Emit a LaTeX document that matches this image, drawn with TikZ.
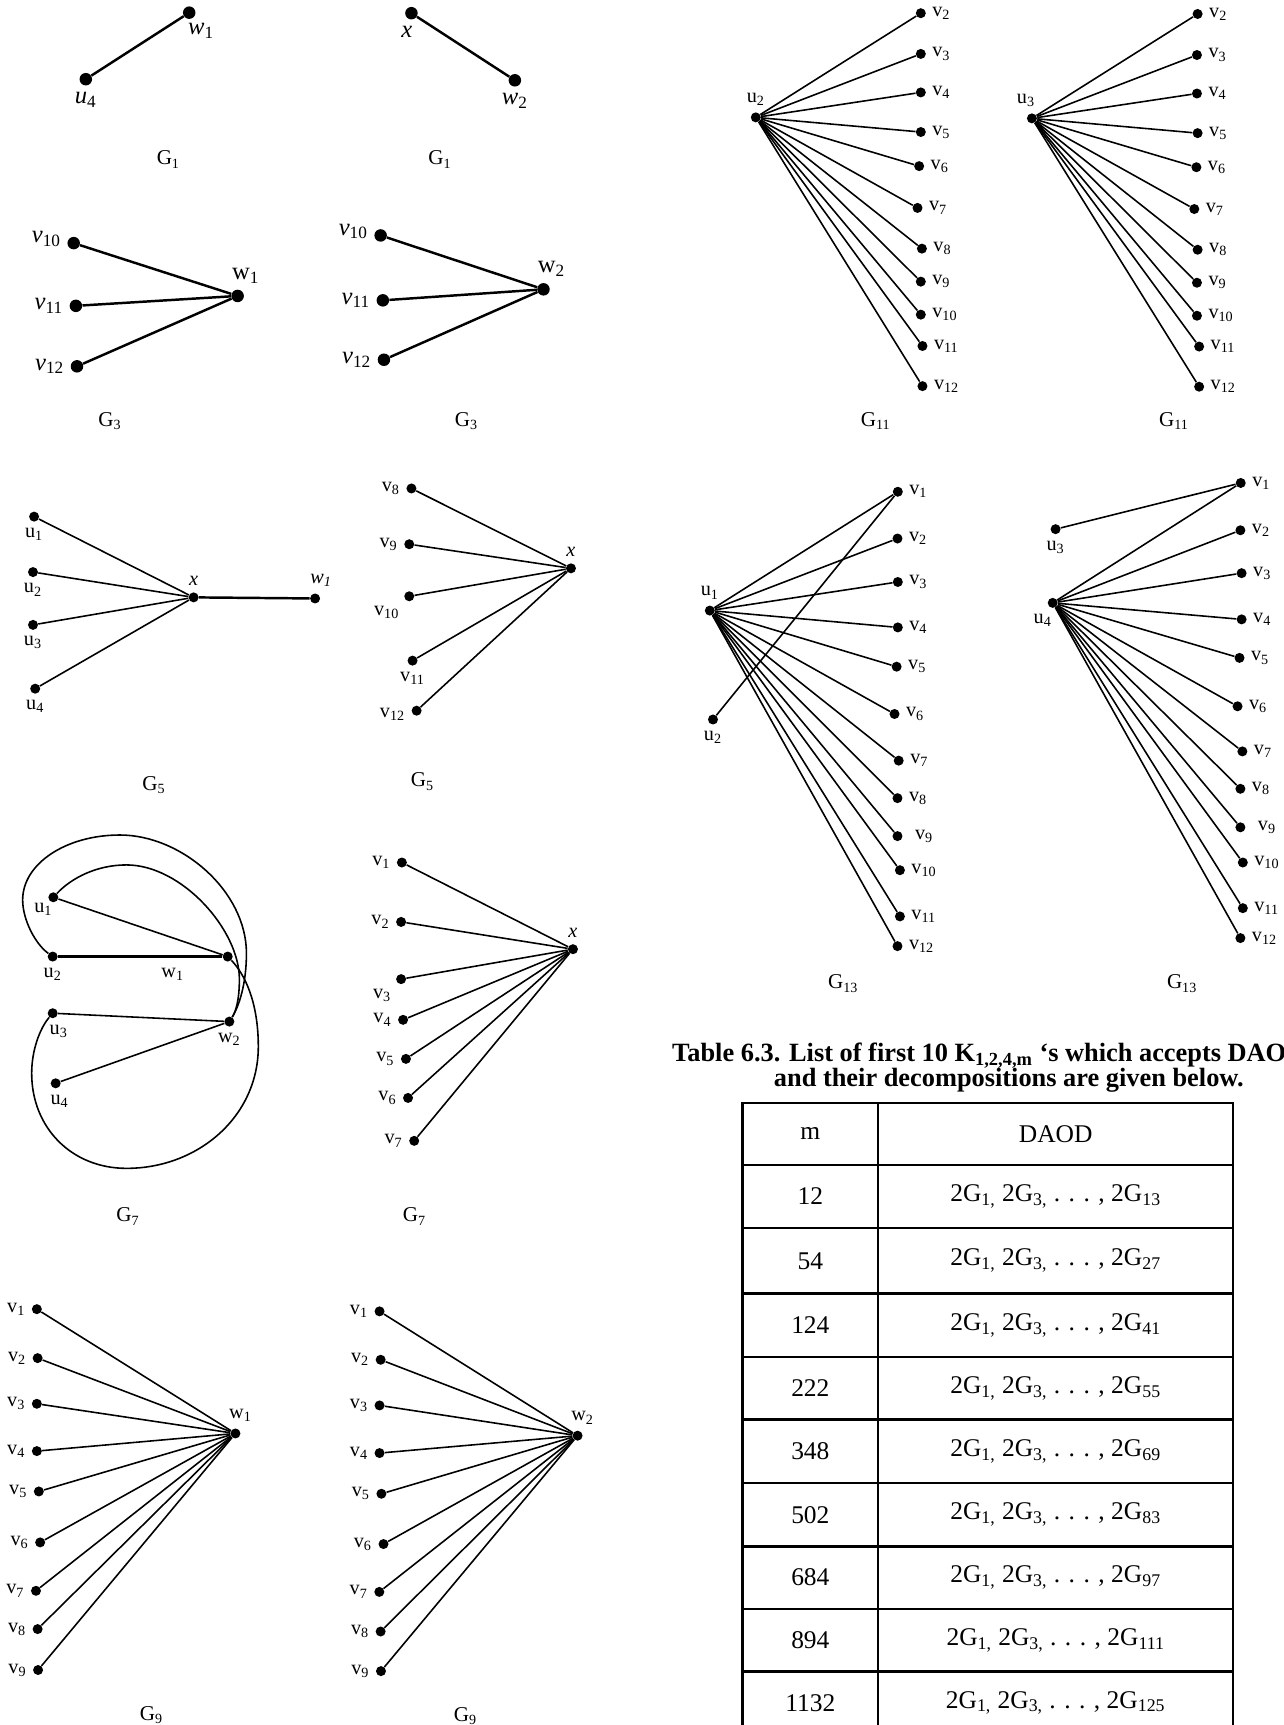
\documentclass[tikz,border=0pt]{standalone}
\usepackage{fontspec}
\setmainfont{Liberation Serif}
\newcommand\lblfont{\fontsize{11.5}{13}\selectfont}
\newcommand\bigfont{\fontsize{14}{16}\selectfont}
\newcommand\capfont{\fontsize{12}{14}\selectfont}
\newcommand\tabfont{\fontsize{14.5}{17}\selectfont}
\newcommand\ttlfont{\fontsize{15}{14.2}\selectfont\bfseries\lineskiplimit=-\maxdimen}
\tikzset{
	v/.style={circle,fill=black,inner sep=0pt,minimum size=2mm},
	bigv/.style={v,minimum size=2.5mm},
	edge/.style={draw=black,line width=0.9pt},
	boldedge/.style={draw=black,line width=1.4pt},
	gname/.style={font=\capfont,inner sep=1pt},
	cell/.style={font=\tabfont,inner sep=1pt},
	tabline/.style={draw=black,line width=1.3pt},
	every label/.style={font=\lblfont},
}
\begin{document}
\begin{tikzpicture}[x=0.22mm,y=-0.22mm]
\useasboundingbox (0,0) rectangle (1167,1568);
% G1, left
\begin{scope}
	\node[bigv,label={[font=\bigfont,xshift=-2.4mm]below right:\textit{w}\textsubscript{1}}] (w1) at (172,11.5) {};
	\node[bigv,label={[font=\bigfont]below:\textit{u}\textsubscript{4}}] (u4) at (78,72) {};
	\draw[boldedge] (u4)--(w1);
	\node[gname] (g1a) at (153,145) {G\textsubscript{1}};
\end{scope}
% G1, right
\begin{scope}
	\node[bigv,label={[font=\bigfont,xshift=-0.9mm]below:\textit{x}}] (x) at (374,12) {};
	\node[bigv,label={[font=\bigfont]below:\textit{w}\textsubscript{2}}] (w2) at (468,73) {};
	\draw[boldedge] (x)--(w2);
	\node[gname] (g1b) at (400,145) {G\textsubscript{1}};
\end{scope}
% G3, left
\begin{scope}
	\node[bigv,label={[font=\bigfont,yshift=0.8mm]left:\textit{v}\textsubscript{10}}] (v10) at (67,221) {};
	\node[bigv,label={[font=\bigfont]left:\textit{v}\textsubscript{11}}] (v11) at (69,278) {};
	\node[bigv,label={[font=\bigfont]left:\textit{v}\textsubscript{12}}] (v12) at (70,333) {};
	\node[bigv,label={[font=\bigfont,xshift=1.6mm]above:w\textsubscript{1}}] (w1) at (216,269) {};
	\draw[boldedge] (v10)--(w1);
	\draw[boldedge] (v11)--(w1);
	\draw[boldedge] (v12)--(w1);
	\node[gname] (g3a) at (100,383) {G\textsubscript{3}};
\end{scope}
% G3, right
\begin{scope}
	\node[bigv,label={[font=\bigfont,yshift=0.8mm]left:\textit{v}\textsubscript{10}}] (v10) at (346,214) {};
	\node[bigv,label={[font=\bigfont]left:\textit{v}\textsubscript{11}}] (v11) at (348,273) {};
	\node[bigv,label={[font=\bigfont]left:\textit{v}\textsubscript{12}}] (v12) at (349,327) {};
	\node[bigv,label={[font=\bigfont,xshift=1.6mm]above:w\textsubscript{2}}] (w2) at (494,263) {};
	\draw[boldedge] (v10)--(w2);
	\draw[boldedge] (v11)--(w2);
	\draw[boldedge] (v12)--(w2);
	\node[gname] (g3b) at (424,383) {G\textsubscript{3}};
\end{scope}
% G11, left
\begin{scope}
	\node[v,label=above:u\textsubscript{2}] (u2) at (687,106.7) {};
	\node[v,label=right:v\textsubscript{2}] (v2) at (837,12) {};
	\node[v,label=right:v\textsubscript{3}] (v3) at (837,49) {};
	\node[v,label=right:v\textsubscript{4}] (v4) at (837,84) {};
	\node[v,label=right:v\textsubscript{5}] (v5) at (837,120) {};
	\node[v,label=right:v\textsubscript{6}] (v6) at (835.5,151) {};
	\node[v,label=right:v\textsubscript{7}] (v7) at (834,189) {};
	\node[v,label=right:v\textsubscript{8}] (v8) at (838,226) {};
	\node[v,label=right:v\textsubscript{9}] (v9) at (837,256) {};
	\node[v,label=right:v\textsubscript{10}] (v10) at (837,286) {};
	\node[v,label=right:v\textsubscript{11}] (v11) at (838.5,314.5) {};
	\node[v,label=right:v\textsubscript{12}] (v12) at (838.5,351) {};
	\draw[edge] (u2)--(v2);
	\draw[edge] (u2)--(v3);
	\draw[edge] (u2)--(v4);
	\draw[edge] (u2)--(v5);
	\draw[edge] (u2)--(v6);
	\draw[edge] (u2)--(v7);
	\draw[edge] (u2)--(v8);
	\draw[edge] (u2)--(v9);
	\draw[edge] (u2)--(v10);
	\draw[edge] (u2)--(v11);
	\draw[edge] (u2)--(v12);
	\node[gname] (g11a) at (796,383) {G\textsubscript{11}};
\end{scope}
% G11, right
\begin{scope}
	\node[v,label={[xshift=-1.2mm]above:u\textsubscript{3}}] (u3) at (938,107.6) {};
	\node[v,label=right:v\textsubscript{2}] (v2) at (1088.6,12.7) {};
	\node[v,label=right:v\textsubscript{3}] (v3) at (1088,50) {};
	\node[v,label=right:v\textsubscript{4}] (v4) at (1088,85) {};
	\node[v,label=right:v\textsubscript{5}] (v5) at (1088.6,121) {};
	\node[v,label=right:v\textsubscript{6}] (v6) at (1087.5,152) {};
	\node[v,label=right:v\textsubscript{7}] (v7) at (1085.6,190) {};
	\node[v,label=right:v\textsubscript{8}] (v8) at (1088.6,227) {};
	\node[v,label=right:v\textsubscript{9}] (v9) at (1088,257) {};
	\node[v,label=right:v\textsubscript{10}] (v10) at (1088,287) {};
	\node[v,label=right:v\textsubscript{11}] (v11) at (1090,315) {};
	\node[v,label=right:v\textsubscript{12}] (v12) at (1090,351.5) {};
	\draw[edge] (u3)--(v2);
	\draw[edge] (u3)--(v3);
	\draw[edge] (u3)--(v4);
	\draw[edge] (u3)--(v5);
	\draw[edge] (u3)--(v6);
	\draw[edge] (u3)--(v7);
	\draw[edge] (u3)--(v8);
	\draw[edge] (u3)--(v9);
	\draw[edge] (u3)--(v10);
	\draw[edge] (u3)--(v11);
	\draw[edge] (u3)--(v12);
	\node[gname] (g11b) at (1067,383) {G\textsubscript{11}};
\end{scope}
% G5, left
\begin{scope}
	\node[v,label=below:u\textsubscript{1}] (u1) at (31,469.6) {};
	\node[v,label=below:u\textsubscript{2}] (u2) at (30,520) {};
	\node[v,label=below:u\textsubscript{3}] (u3) at (30,568) {};
	\node[v,label=below:u\textsubscript{4}] (u4) at (32,626) {};
	\node[v,label=above:\textit{x}] (x) at (176,543) {};
	\node[v,label={[xshift=1.2mm]above:\textit{w}\textsubscript{\textit{1}}}] (w1) at (286.4,544) {};
	\draw[edge] (u1)--(x);
	\draw[edge] (u2)--(x);
	\draw[edge] (u3)--(x);
	\draw[edge] (u4)--(x);
	\draw[boldedge] (x)--(w1);
	\node[gname] (g5a) at (140,713.5) {G\textsubscript{5}};
\end{scope}
% G5, right
\begin{scope}
	\node[v,label=left:v\textsubscript{8}] (v8) at (374,444) {};
	\node[v,label=left:v\textsubscript{9}] (v9) at (372,494.7) {};
	\node[v,label=below left:v\textsubscript{10}] (v10) at (372,542) {};
	\node[v,label=below:v\textsubscript{11}] (v11) at (375,600.5) {};
	\node[v,label={[yshift=-0.8mm]left:v\textsubscript{12}}] (v12) at (378.7,646) {};
	\node[v,label=above:\textit{x}] (x) at (519,516.6) {};
	\draw[edge] (v8)--(x);
	\draw[edge] (v9)--(x);
	\draw[edge] (v10)--(x);
	\draw[edge] (v11)--(x);
	\draw[edge] (v12)--(x);
	\node[gname] (g5b) at (384,710.5) {G\textsubscript{5}};
\end{scope}
% G13, left
\begin{scope}
	\node[v,label=above:u\textsubscript{1}] (u1) at (645.2,555) {};
	\node[v,label=below:u\textsubscript{2}] (u2) at (648.1,654) {};
	\node[v,label=right:v\textsubscript{1}] (v1) at (816.1,447) {};
	\node[v,label=right:v\textsubscript{2}] (v2) at (815.8,489.5) {};
	\node[v,label=right:v\textsubscript{3}] (v3) at (816.1,529) {};
	\node[v,label=right:v\textsubscript{4}] (v4) at (816.1,570.3) {};
	\node[v,label=right:v\textsubscript{5}] (v5) at (815,606) {};
	\node[v,label=right:v\textsubscript{6}] (v6) at (813.1,649) {};
	\node[v,label=right:v\textsubscript{7}] (v7) at (816.9,691.4) {};
	\node[v,label=right:v\textsubscript{8}] (v8) at (815.8,725.5) {};
	\node[v,label={[xshift=1.2mm]right:v\textsubscript{9}}] (v9) at (815.8,760) {};
	\node[v,label=right:v\textsubscript{10}] (v10) at (818,791) {};
	\node[v,label=right:v\textsubscript{11}] (v11) at (818,833) {};
	\node[v,label=right:v\textsubscript{12}] (v12) at (815.8,860) {};
	\draw[edge] (u1)--(v1);
	\draw[edge] (u1)--(v2);
	\draw[edge] (u1)--(v3);
	\draw[edge] (u1)--(v4);
	\draw[edge] (u1)--(v5);
	\draw[edge] (u1)--(v6);
	\draw[edge] (u1)--(v7);
	\draw[edge] (u1)--(v8);
	\draw[edge] (u1)--(v9);
	\draw[edge] (u1)--(v10);
	\draw[edge] (u1)--(v11);
	\draw[edge] (u1)--(v12);
	\draw[edge] (u2)--(v1);
	\node[gname] (g13a) at (766.5,894) {G\textsubscript{13}};
\end{scope}
% G13, right
\begin{scope}
	\node[v,label=below:u\textsubscript{3}] (u3) at (959.5,481) {};
	\node[v,label={[xshift=-2mm]below:u\textsubscript{4}}] (u4) at (956.9,548) {};
	\node[v,label=right:v\textsubscript{1}] (v1) at (1127.8,439) {};
	\node[v,label=right:v\textsubscript{2}] (v2) at (1127.5,482) {};
	\node[v,label=right:v\textsubscript{3}] (v3) at (1128.6,521) {};
	\node[v,label=right:v\textsubscript{4}] (v4) at (1128.6,563) {};
	\node[v,label=right:v\textsubscript{5}] (v5) at (1126.7,598) {};
	\node[v,label=right:v\textsubscript{6}] (v6) at (1124.9,642) {};
	\node[v,label=right:v\textsubscript{7}] (v7) at (1129.3,683) {};
	\node[v,label=right:v\textsubscript{8}] (v8) at (1127.5,717) {};
	\node[v,label={[xshift=1.2mm]right:v\textsubscript{9}}] (v9) at (1127.5,752) {};
	\node[v,label=right:v\textsubscript{10}] (v10) at (1129.7,784) {};
	\node[v,label=right:v\textsubscript{11}] (v11) at (1129.7,825.5) {};
	\node[v,label=right:v\textsubscript{12}] (v12) at (1127.5,852.7) {};
	\draw[edge] (u3)--(v1);
	\draw[edge] (u4)--(v1);
	\draw[edge] (u4)--(v2);
	\draw[edge] (u4)--(v3);
	\draw[edge] (u4)--(v4);
	\draw[edge] (u4)--(v5);
	\draw[edge] (u4)--(v6);
	\draw[edge] (u4)--(v7);
	\draw[edge] (u4)--(v8);
	\draw[edge] (u4)--(v9);
	\draw[edge] (u4)--(v10);
	\draw[edge] (u4)--(v11);
	\draw[edge] (u4)--(v12);
	\node[gname] (g13b) at (1074.5,894) {G\textsubscript{13}};
\end{scope}
% G7, left
\begin{scope}
	\node[v,label={[xshift=-2mm,yshift=1.2mm]below:u\textsubscript{1}}] (u1) at (48.5,815.6) {};
	\node[v,label=below:u\textsubscript{2}] (u2) at (47.9,869.5) {};
	\node[v,label={[xshift=-11mm]below:w\textsubscript{1}}] (w1) at (207,869.5) {};
	\node[v,label={[xshift=1.2mm]below:u\textsubscript{3}}] (u3) at (47.9,921) {};
	\node[v,label=below:w\textsubscript{2}] (w2) at (208.5,928.6) {};
	\node[v,label={[xshift=0.8mm]below:u\textsubscript{4}}] (u4) at (50.6,984.7) {};
	\draw[edge] (u1)--(w1);
	\draw[boldedge] (u2)--(w1);
	\draw[edge] (u3)--(w2);
	\draw[edge] (u4)--(w2);
	\draw[edge] (u2) .. controls (32,858) and (20.6,836) .. (20.6,818)
		.. controls (20.6,785) and (60,759) .. (109,759)
		.. controls (165,759) and (224,810) .. (224,866.5)
		.. controls (224,895) and (217,915) .. (w2);
	\draw[edge] (u1) .. controls (65,798) and (88,786.2) .. (115,786.2)
		.. controls (165,786.2) and (217.6,845) .. (217.6,890)
		.. controls (217.6,910) and (214,920) .. (w2);
	\draw[edge] (u3) .. controls (36,935) and (28.8,955) .. (28.8,975.6)
		.. controls (28.8,1025) and (65,1062) .. (115,1062)
		.. controls (180,1062) and (234.8,1015) .. (234.8,951.3)
		.. controls (234.8,910) and (222,885) .. (w1);
	\node[gname] (g7a) at (116.4,1105.8) {G\textsubscript{7}};
\end{scope}
% G7, right
\begin{scope}
	\node[v,label=left:v\textsubscript{1}] (v1) at (365.3,784) {};
	\node[v,label=left:v\textsubscript{2}] (v2) at (364.6,838) {};
	\node[v,label=below left:v\textsubscript{3}] (v3) at (364.6,890) {};
	\node[v,label=left:v\textsubscript{4}] (v4) at (366.4,927) {};
	\node[v,label=left:v\textsubscript{5}] (v5) at (369,962.5) {};
	\node[v,label=left:v\textsubscript{6}] (v6) at (370.9,998) {};
	\node[v,label=left:v\textsubscript{7}] (v7) at (376.5,1037) {};
	\node[v,label=above:\textit{x}] (x) at (520.8,862.8) {};
	\draw[edge] (v1)--(x);
	\draw[edge] (v2)--(x);
	\draw[edge] (v3)--(x);
	\draw[edge] (v4)--(x);
	\draw[edge] (v5)--(x);
	\draw[edge] (v6)--(x);
	\draw[edge] (v7)--(x);
	\node[gname] (g7b) at (376.8,1105.8) {G\textsubscript{7}};
\end{scope}
% G9, left
\begin{scope}
	\node[v,label=left:v\textsubscript{1}] (v1) at (33.5,1190) {};
	\node[v,label=left:v\textsubscript{2}] (v2) at (34.2,1234.5) {};
	\node[v,label=left:v\textsubscript{3}] (v3) at (33.5,1276) {};
	\node[v,label=left:v\textsubscript{4}] (v4) at (33.5,1319) {};
	\node[v,label=left:v\textsubscript{5}] (v5) at (35.3,1355.7) {};
	\node[v,label=left:v\textsubscript{6}] (v6) at (36.5,1402) {};
	\node[v,label=left:v\textsubscript{7}] (v7) at (32.7,1446) {};
	\node[v,label=left:v\textsubscript{8}] (v8) at (34.2,1480.8) {};
	\node[v,label=left:v\textsubscript{9}] (v9) at (34.6,1518) {};
	\node[v,label={[xshift=1mm]above:w\textsubscript{1}}] (w1) at (214,1303) {};
	\draw[edge] (v1)--(w1);
	\draw[edge] (v2)--(w1);
	\draw[edge] (v3)--(w1);
	\draw[edge] (v4)--(w1);
	\draw[edge] (v5)--(w1);
	\draw[edge] (v6)--(w1);
	\draw[edge] (v7)--(w1);
	\draw[edge] (v8)--(w1);
	\draw[edge] (v9)--(w1);
	\node[gname] (g9a) at (137.6,1558.7) {G\textsubscript{9}};
\end{scope}
% G9, right
\begin{scope}
	\node[v,label=left:v\textsubscript{1}] (v1) at (345,1192) {};
	\node[v,label=left:v\textsubscript{2}] (v2) at (346,1236) {};
	\node[v,label=left:v\textsubscript{3}] (v3) at (345,1277.5) {};
	\node[v,label=left:v\textsubscript{4}] (v4) at (345,1320.8) {};
	\node[v,label=left:v\textsubscript{5}] (v5) at (346.7,1357.8) {};
	\node[v,label=left:v\textsubscript{6}] (v6) at (348.6,1403.5) {};
	\node[v,label=left:v\textsubscript{7}] (v7) at (344.8,1447) {};
	\node[v,label=left:v\textsubscript{8}] (v8) at (346,1483) {};
	\node[v,label=left:v\textsubscript{9}] (v9) at (346.3,1519) {};
	\node[v,label={[xshift=1mm]above:w\textsubscript{2}}] (w2) at (525,1305) {};
	\draw[edge] (v1)--(w2);
	\draw[edge] (v2)--(w2);
	\draw[edge] (v3)--(w2);
	\draw[edge] (v4)--(w2);
	\draw[edge] (v5)--(w2);
	\draw[edge] (v6)--(w2);
	\draw[edge] (v7)--(w2);
	\draw[edge] (v8)--(w2);
	\draw[edge] (v9)--(w2);
	\node[gname] (g9b) at (423,1560) {G\textsubscript{9}};
\end{scope}
% Table 6.3
\node[font=\ttlfont,align=left,anchor=base west,inner sep=0pt] (ttl) at (610.7,987.6) {Table 6.3. List of first 10 K\textsubscript{1,2,4,m} ‘s which accepts DAO\\\hspace*{20.35mm}and their decompositions are given below.};
\draw[tabline] (675,1568)--(675,1002.5)--(1121,1002.5)--(1121,1568);
\draw[tabline] (798.2,1002.5)--(798.2,1568);
\draw[tabline] (675,1059)--(1121,1059);
\draw[tabline] (675,1116)--(1121,1116);
\draw[tabline] (675,1175.7)--(1121,1175.7);
\draw[tabline] (675,1233.3)--(1121,1233.3);
\draw[tabline] (675,1290.4)--(1121,1290.4);
\draw[tabline] (675,1348)--(1121,1348);
\draw[tabline] (675,1405.6)--(1121,1405.6);
\draw[tabline] (675,1462.6)--(1121,1462.6);
\draw[tabline] (675,1519.4)--(1121,1519.4);
\node[cell] (hm) at (736.6,1030.7) {m};
\node[cell] (hd) at (959.6,1030.7) {DAOD};
\node[cell] (m1) at (736.6,1087.5) {12};
\node[cell] (d1) at (959.6,1087.5) {2G\textsubscript{1,} 2G\textsubscript{3,} . . . , 2G\textsubscript{13}};
\node[cell] (m2) at (736.6,1146) {54};
\node[cell] (d2) at (959.6,1146) {2G\textsubscript{1,} 2G\textsubscript{3,} . . . , 2G\textsubscript{27}};
\node[cell] (m3) at (736.6,1204.5) {124};
\node[cell] (d3) at (959.6,1204.5) {2G\textsubscript{1,} 2G\textsubscript{3,} . . . , 2G\textsubscript{41}};
\node[cell] (m4) at (736.6,1261.8) {222};
\node[cell] (d4) at (959.6,1261.8) {2G\textsubscript{1,} 2G\textsubscript{3,} . . . , 2G\textsubscript{55}};
\node[cell] (m5) at (736.6,1319) {348};
\node[cell] (d5) at (959.6,1319) {2G\textsubscript{1,} 2G\textsubscript{3,} . . . , 2G\textsubscript{69}};
\node[cell] (m6) at (736.6,1376.8) {502};
\node[cell] (d6) at (959.6,1376.8) {2G\textsubscript{1,} 2G\textsubscript{3,} . . . , 2G\textsubscript{83}};
\node[cell] (m7) at (736.6,1434) {684};
\node[cell] (d7) at (959.6,1434) {2G\textsubscript{1,} 2G\textsubscript{3,} . . . , 2G\textsubscript{97}};
\node[cell] (m8) at (736.6,1491) {894};
\node[cell] (d8) at (959.6,1491) {2G\textsubscript{1,} 2G\textsubscript{3,} . . . , 2G\textsubscript{111}};
\node[cell] (m9) at (736.6,1548) {1132};
\node[cell] (d9) at (959.6,1548) {2G\textsubscript{1,} 2G\textsubscript{3,} . . . , 2G\textsubscript{125}};
\end{tikzpicture}
\end{document}
